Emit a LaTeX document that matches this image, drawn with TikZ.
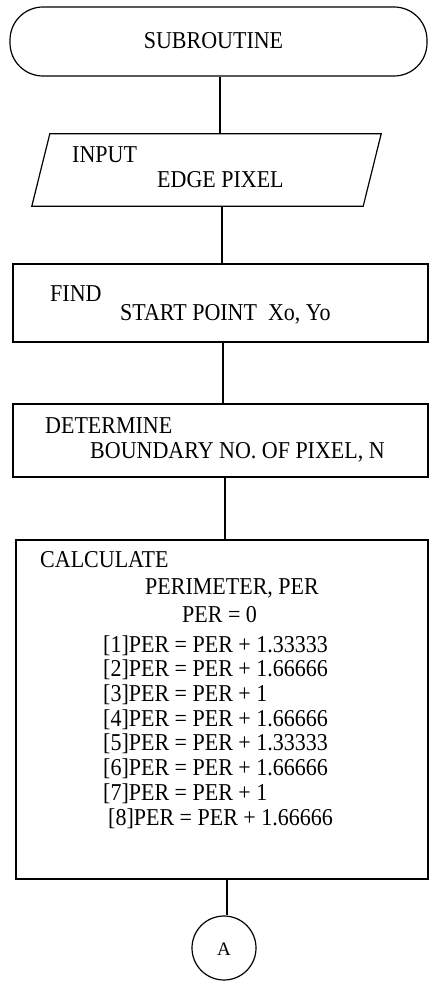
\documentclass[tikz,border=0pt]{standalone}
\usepackage{fontspec}
\usepackage{graphicx}
\setmainfont{Liberation Serif}
\newcommand\vstr[1]{\scalebox{1}[1.1]{#1}}
\begin{document}
\begin{tikzpicture}[x=1pt,y=-1pt,
  box/.style={draw, line width=1.2pt, rectangle, inner sep=0pt},
  conn/.style={line width=1.6pt},
  txt/.style={inner sep=0pt, anchor=base west, font=\fontsize{22}{24}\selectfont},
]
\useasboundingbox (0,0) rectangle (433,981);
% shapes
\node[box, rounded corners=33pt, minimum width=417pt, minimum height=69pt] (term) at (218.5,41.5) {};
\node[inner sep=0pt, minimum width=331pt, minimum height=72pt] (inp) at (197.5,170) {};
\draw[line width=1.2pt, line join=miter] (inp.south west) -- (inp.south east) -- ([xshift=18pt]inp.north east)
      -- ([xshift=18pt]inp.north west) -- cycle;
\node[box, minimum width=415pt, minimum height=78pt] (find) at (220.5,303) {};
\node[box, minimum width=415pt, minimum height=73pt] (det) at (220.5,440.5) {};
\node[box, minimum width=412pt, minimum height=339pt] (calc) at (222,709.5) {};
\node[draw, line width=1.2pt, circle, minimum size=64pt, inner sep=0pt] (circA) at (224,948) {};
% connector columns
\coordinate (c1) at (220,0);
\coordinate (c2) at (222,0);
\coordinate (c3) at (223,0);
\coordinate (c4) at (225,0);
\coordinate (c5) at (227,0);
\draw[conn] (term.south -| c1) -- (inp.north -| c1);
\draw[conn] (inp.south -| c2) -- (find.north -| c2);
\draw[conn] (find.south -| c3) -- (det.north -| c3);
\draw[conn] (det.south -| c4) -- (calc.north -| c4);
\draw[conn] (calc.south -| c5) -- (circA.north -| c5);
% texts
\node[txt, anchor=base] (t0) at (213.5,49) {\vstr{SUBROUTINE}};
\node[txt] (t1) at (72,163) {\vstr{INPUT}};
\node[txt] (t2) at (157,188) {\vstr{EDGE PIXEL}};
\node[txt] (t3) at (50,301) {\vstr{FIND}};
\node[txt] (t4) at (120,320) {\vstr{START POINT\ \ Xo, Yo}};
\node[txt] (t5) at (45,433) {\vstr{DETERMINE}};
\node[txt] (t6) at (90,458) {\vstr{BOUNDARY NO. OF PIXEL, N}};
\node[txt] (t7) at (40,567) {\vstr{CALCULATE}};
\node[txt] (t8) at (145,594) {\vstr{PERIMETER, PER}};
\node[txt] (t9) at (182,622) {\vstr{PER = 0}};
\node[txt] (l1) at (103,652) {\vstr{[1]PER = PER + 1.33333}};
\node[txt] (l2) at (103,676.7) {\vstr{[2]PER = PER + 1.66666}};
\node[txt] (l3) at (103,701.4) {\vstr{[3]PER = PER + 1}};
\node[txt] (l4) at (103,726.1) {\vstr{[4]PER = PER + 1.66666}};
\node[txt] (l5) at (103,750.8) {\vstr{[5]PER = PER + 1.33333}};
\node[txt] (l6) at (103,775.5) {\vstr{[6]PER = PER + 1.66666}};
\node[txt] (l7) at (103,800.2) {\vstr{[7]PER = PER + 1}};
\node[txt] (l8) at (108,825) {\vstr{[8]PER = PER + 1.66666}};
\node[inner sep=0pt, anchor=base, font=\fontsize{19}{22}\selectfont] (tA) at (224,955) {A};
\end{tikzpicture}
\end{document}
